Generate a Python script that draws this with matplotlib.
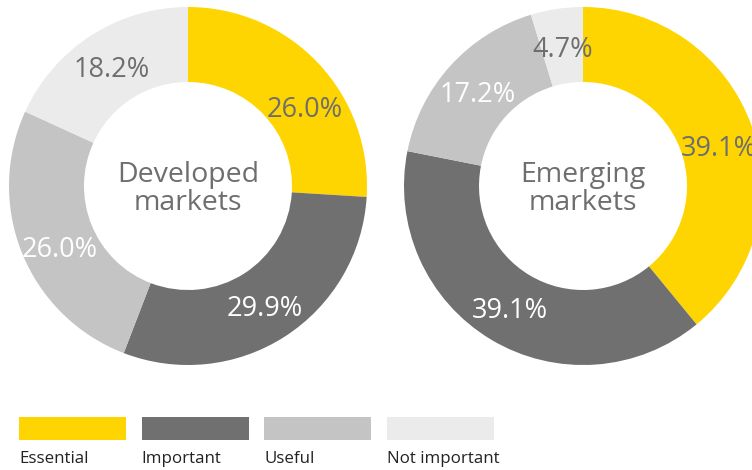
import numpy as np
import matplotlib.pyplot as plt
from matplotlib.patches import Rectangle

# Data
categories = ['Essential', 'Important', 'Useful', 'Not important']
developed = [26.0, 29.9, 26.0, 18.2]
emerging = [39.1, 39.1, 17.2, 4.7]
titles = ['Developed\nmarkets', 'Emerging\nmarkets']

colors = ['#FED500', '#707070', '#C4C4C4', '#EBEBEB']
label_colors = ['#6E6E6E', 'white', 'white', '#6E6E6E']
FONT = 'Open Sans'

W, H = 752, 470
R_OUT, R_IN = 179, 104


def donut(ax, values, cx, cy, title, nudge=None):
    nudge = nudge or {}
    wedges, _ = ax.pie(values, colors=colors, startangle=90, counterclock=False,
                       center=(cx, cy), radius=R_OUT, frame=True,
                       wedgeprops=dict(width=R_OUT - R_IN, linewidth=0))
    r_lab = (R_OUT + R_IN) / 2
    for i, (w, v) in enumerate(zip(wedges, values)):
        ang = np.deg2rad((w.theta1 + w.theta2) / 2 + nudge.get(i, 0))
        ax.text(cx + r_lab * np.cos(ang), cy + r_lab * np.sin(ang), f'{v:.1f}%',
                ha='center', va='center_baseline', fontsize=19.5,
                color=label_colors[i], family=FONT)
    ax.text(cx, cy - 3, title, ha='center', va='center', fontsize=20.5,
            color='#6E6E6E', family=FONT, linespacing=1.0)


fig = plt.figure(figsize=(W / 100, H / 100), dpi=100)
ax = fig.add_axes([0, 0, 1, 1])

donut(ax, developed, 188, H - 186, titles[0], nudge={0: -9, 2: 3})
donut(ax, emerging, 583, H - 186, titles[1], nudge={0: -3})

# legend boxes with labels underneath
for i, (cat, col) in enumerate(zip(categories, colors)):
    x0 = 19 + i * 122.7
    ax.add_patch(Rectangle((x0, H - 440), 107, 23, color=col, lw=0))
    ax.text(x0, H - 459, cat, ha='left', va='center', fontsize=12.2,
            color='#222222', family=FONT)

ax.set_xlim(0, W)
ax.set_ylim(0, H)
ax.set_aspect('equal')
ax.axis('off')

fig.savefig('out.png', dpi=100)
